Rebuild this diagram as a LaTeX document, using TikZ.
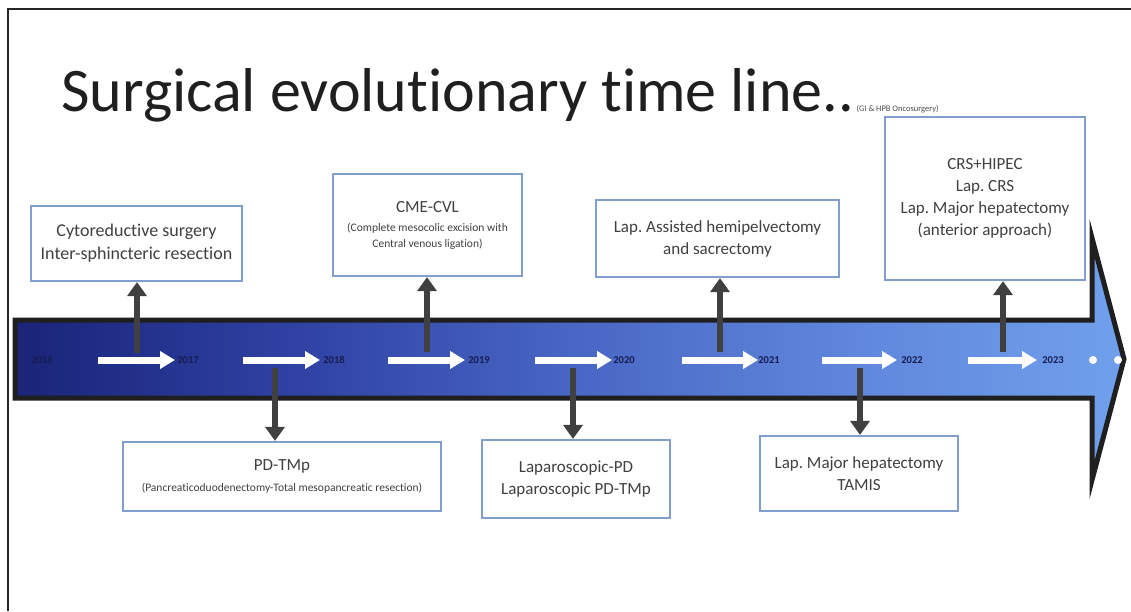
\documentclass[tikz,border=0pt]{standalone}
\usepackage{fontspec}
\setmainfont{Carlito}[Ligatures=NoCommon]
\usetikzlibrary{arrows.meta}
\definecolor{navyA}{RGB}{26,36,120}
\definecolor{navyB}{RGB}{46,64,162}
\definecolor{blueC}{RGB}{72,102,196}
\definecolor{blueD}{RGB}{96,135,220}
\definecolor{blueE}{RGB}{112,160,236}
\definecolor{boxedge}{RGB}{130,158,204}
\definecolor{conngray}{RGB}{64,64,64}
\definecolor{txtgray}{RGB}{64,64,64}
\definecolor{yearcol}{RGB}{22,28,78}
\pgfdeclarehorizontalshading{bandshade}{100bp}{color(0bp)=(navyA); color(25bp)=(navyA); color(37bp)=(navyB); color(50bp)=(blueC); color(63bp)=(blueD); color(75bp)=(blueE); color(100bp)=(blueE)}
\newcommand\boxbig{\fontsize{17}{22}\selectfont}
\newcommand\boxsmall{\fontsize{11.5}{13.5}\selectfont}
\frenchspacing
\begin{document}
\begin{tikzpicture}[x=1pt,y=-1pt,
  evbox/.style={draw=boxedge, line width=2.2pt, fill=white, align=center, text=txtgray, inner sep=2pt, font=\boxbig},
  conn/.style={conngray, line width=6pt, -{Triangle[width=19pt,length=14pt]}},
  whitearrow/.style={white, line width=7pt, -{Triangle[width=17pt,length=15pt]}},
  yearlbl/.style={text=yearcol, font=\fontsize{10.5}{12}\selectfont\bfseries, inner sep=0pt},
  wdot/.style={circle, fill=white, minimum size=8pt, inner sep=0pt}
]
\useasboundingbox (0,0) rectangle (1131,611);
% frame
\draw[black!85, line width=2.5pt] (8,611) -- (8,9) -- (1131,9);
% title
\node[anchor=base west, inner sep=0pt, font=\fontsize{62}{74}\selectfont, text=black!88] (title) at (61,111) {Surgical evolutionary time line..};
\node[anchor=base west, inner sep=0pt, font=\fontsize{8.5}{10}\selectfont, text=black!70, xshift=2pt] (subtitle) at (title.base east) {(GI \& HPB Oncosurgery)};
% band arrow
\shadedraw[shading=bandshade, draw=black!88, line width=5pt] (15,320) -- (1092,320) -- (1092,238) -- (1124,359) -- (1092,480) -- (1092,398) -- (15,398) -- cycle;
% years
\node[yearlbl] (y16) at (42,360) {2016};
\node[yearlbl] (y17) at (188,360) {2017};
\node[yearlbl] (y18) at (334,360) {2018};
\node[yearlbl] (y19) at (479,360) {2019};
\node[yearlbl] (y20) at (624,360) {2020};
\node[yearlbl] (y21) at (769,360) {2021};
\node[yearlbl] (y22) at (912,360) {2022};
\node[yearlbl] (y23) at (1053,360) {2023};
% white arrows
\coordinate (w1a) at (98,360);  \coordinate (w1b) at (175,360);
\coordinate (w2a) at (243,360); \coordinate (w2b) at (320,360);
\coordinate (w3a) at (388,360); \coordinate (w3b) at (465,360);
\coordinate (w4a) at (535,360); \coordinate (w4b) at (612,360);
\coordinate (w5a) at (682,360); \coordinate (w5b) at (758,360);
\coordinate (w6a) at (822,360); \coordinate (w6b) at (897,360);
\coordinate (w7a) at (968,360); \coordinate (w7b) at (1037,360);
\foreach \i in {1,...,7} {\draw[whitearrow] (w\i a) -- (w\i b);}
\node[wdot] (d1) at (1093,360) {};
\node[wdot] (d2) at (1118,360) {};
% boxes
\node[evbox, font=\fontsize{18}{23}\selectfont, minimum width=211pt, minimum height=75pt] (b1) at (136.5,243.5) {Cytoreductive surgery\\Inter-sphincteric resection};
\node[evbox, minimum width=318pt, minimum height=69pt] (b2) at (282,476.5) {PD-TMp\\[-1pt]{\boxsmall (Pancreaticoduodenectomy-Total mesopancreatic resection)}};
\node[evbox, minimum width=189pt, minimum height=102pt] (b3) at (427.5,225) {CME-CVL\\[-3pt]{\boxsmall (Complete mesocolic excision with}\\[-6pt]{\boxsmall Central venous ligation)}};
\node[evbox, minimum width=188pt, minimum height=78pt] (b4) at (576,479) {Laparoscopic-PD\\Laparoscopic PD-TMp};
\node[evbox, minimum width=243pt, minimum height=77pt] (b5) at (717.5,238.5) {Lap. Assisted hemipelvectomy\\and sacrectomy};
\node[evbox, minimum width=198pt, minimum height=75pt] (b6) at (859,473.5) {Lap. Major hepatectomy\\TAMIS};
\node[evbox, minimum width=200pt, minimum height=163pt] (b7) at (985,198.5) {CRS+HIPEC\\Lap. CRS\\Lap. Major hepatectomy\\(anterior approach)};
% connectors
\coordinate (c1) at (137,353);
\coordinate (c2) at (275,368);
\coordinate (c3) at (427,352);
\coordinate (c4) at (573,368);
\coordinate (c5) at (720,352);
\coordinate (c6) at (860,368);
\coordinate (c7) at (1003,352);
\draw[conn] (c1) -- (c1 |- b1.south);
\draw[conn] (c2) -- (c2 |- b2.north);
\draw[conn] (c3) -- (c3 |- b3.south);
\draw[conn] (c4) -- (c4 |- b4.north);
\draw[conn] (c5) -- (c5 |- b5.south);
\draw[conn] (c6) -- (c6 |- b6.north);
\draw[conn] (c7) -- (c7 |- b7.south);
\end{tikzpicture}
\end{document}
